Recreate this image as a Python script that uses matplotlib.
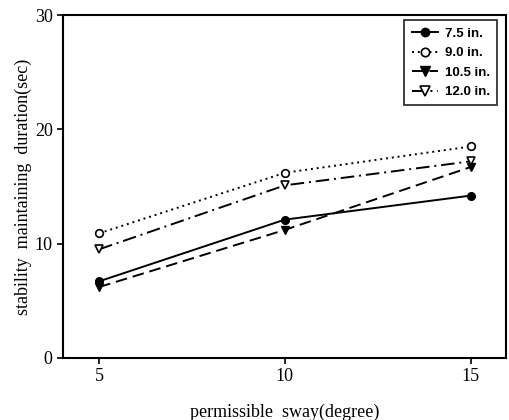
import matplotlib
matplotlib.use("Agg")
import matplotlib.pyplot as plt

# permissible sway (degree)
sway = [5, 10, 15]

# stability maintaining duration (sec) per platform width
labels = ["7.5 in.", "9.0 in.", "10.5 in.", "12.0 in."]
dur_75 = [6.7, 12.1, 14.2]
dur_90 = [10.9, 16.2, 18.5]
dur_105 = [6.2, 11.2, 16.7]
dur_120 = [9.5, 15.1, 17.2]

yticks = [0, 10, 20, 30]
xticks = [5, 10, 15]

fig = plt.figure(figsize=(5.09, 4.2), dpi=100)
ax = fig.add_axes([0.124, 0.148, 0.870, 0.816])

serif = "Liberation Serif"

ax.plot(sway, dur_75, color="black", lw=1.4, ls="-", marker="o",
        ms=5.5, mfc="black", label=labels[0])
ax.plot(sway, dur_90, color="black", lw=1.4, ls=(0, (1, 2)), marker="o",
        ms=5.5, mfc="white", mew=1.2, label=labels[1])
ax.plot(sway, dur_105, color="black", lw=1.4, ls=(0, (6, 3)), marker="v",
        ms=6, mfc="black", label=labels[2])
ax.plot(sway, dur_120, color="black", lw=1.4, ls=(0, (7, 2.5, 1, 2.5)), marker="v",
        ms=6, mfc="white", mew=1.2, label=labels[3])

ax.set_xlim(4.03, 15.95)
ax.set_ylim(0, 30)
ax.set_xticks(xticks)
ax.set_yticks(yticks)
ax.tick_params(direction="out", length=4, width=1.2, labelsize=13)
for lab in ax.get_xticklabels() + ax.get_yticklabels():
    lab.set_family(serif)
for sp in ax.spines.values():
    sp.set_linewidth(1.5)

ax.set_xlabel("permissible  sway(degree)", family=serif, fontsize=13, labelpad=13)
ax.set_ylabel("stability  maintaining  duration(sec)", family=serif, fontsize=13, labelpad=2)

leg = ax.legend(loc="upper right", bbox_to_anchor=(0.98, 0.985), borderaxespad=0,
                frameon=True, fancybox=False, edgecolor="black", handlelength=2.0,
                handletextpad=0.5, borderpad=0.55, labelspacing=0.55,
                markerscale=1.1,
                prop={"family": "Liberation Sans", "weight": "bold", "size": 9.5})
leg.get_frame().set_linewidth(1.3)

fig.savefig("out.png", dpi=100)
